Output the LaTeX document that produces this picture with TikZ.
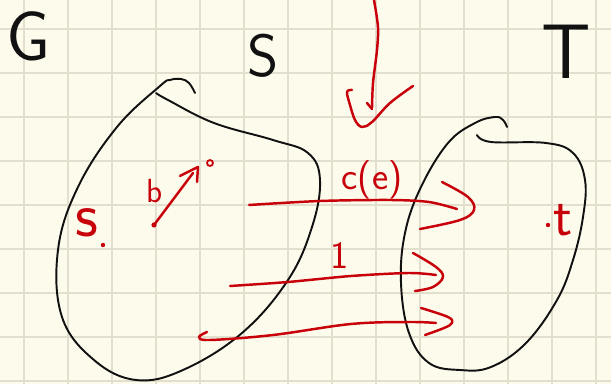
\documentclass[tikz,border=0pt]{standalone}
\usepackage{xcolor}
\usepackage{tikz}
\usetikzlibrary{positioning}
\definecolor{paper}{HTML}{FDFBEC}
\definecolor{gridline}{HTML}{E2DFCF}
\definecolor{ink}{HTML}{111111}
\definecolor{pen}{HTML}{C8000A}

\begin{document}
\begin{tikzpicture}[x=0.02cm,y=-0.02cm,
  blob/.style={draw=ink,line width=1.1pt,line cap=round,line join=round},
  penline/.style={draw=pen,line width=1.4pt,line cap=round,line join=round},
  hand/.style={inner sep=0pt,font=\sffamily}]
  \useasboundingbox (0,0) rectangle (611,384);
  \fill[paper] (0,0) rectangle (611,384);
  % squared note paper
  \foreach \gx in {0,...,13} \draw[gridline,line width=0.6pt] (24+44*\gx,0) -- (24+44*\gx,384);
  \foreach \gy in {0,...,8} \draw[gridline,line width=0.6pt] (0,29+44*\gy) -- (611,29+44*\gy);
  % the two sides of the cut
  \draw[blob] plot[smooth,tension=0.65] coordinates {(195,93) (189,83) (181,79) (170,80) (160,86) (117,127) (78,187) (58,250) (62,317) (94,360) (136,380) (183,370) (242,333) (288,280) (312,227) (320,180) (308,153) (273,140) (214,123) (168,100) (156,93)};
  \draw[blob] plot[smooth,tension=0.65] coordinates {(477,135) (491,142) (546,143) (573,153) (585,180) (583,217) (573,260) (557,300) (526,343) (491,367) (460,370) (429,363) (409,333) (401,283) (405,233) (421,187) (448,143) (475,123) (495,117) (503,120) (507,127)};
  \node[hand,text=ink,font=\sffamily\fontsize{40}{40}\selectfont] (lblG) at (29,36) {G};
  \node[hand,text=ink,font=\sffamily\fontsize{34}{34}\selectfont] (lblS) at (263,56) {S};
  \node[hand,text=ink,font=\sffamily\fontsize{44}{44}\selectfont] (lblT) at (566,52) {T};
  % pointer and tick
  \draw[penline] plot[smooth] coordinates {(374,0) (378,27) (377,50) (373,83) (372,108)};
  \draw[penline] (367,103) -- (372,109);
  \draw[penline] plot[smooth,tension=0.6] coordinates {(352,90) (347,92) (350,105) (355,120) (362,127) (372,122) (390,103) (413,86)};
  % edges crossing the cut
  \draw[penline] plot[smooth] coordinates {(249,205) (320,201) (390,200) (429,202) (457,209)};
  \draw[penline] plot[smooth,tension=0.6] coordinates {(442,182) (468,197) (474,210) (460,220) (420,229)};
  \draw[penline] plot[smooth] coordinates {(230,286) (288,282) (351,276) (409,273) (436,275)};
  \draw[penline] plot[smooth,tension=0.6] coordinates {(413,253) (436,267) (443,277) (433,287) (415,291)};
  \draw[penline] plot[smooth,tension=0.6] coordinates {(207,332) (199,337) (210,340) (273,335) (351,324) (409,322) (436,323)};
  \draw[penline] plot[smooth,tension=0.6] coordinates {(421,308) (448,317) (452,323) (444,328) (425,335)};
  \node[hand,text=pen,font=\sffamily\fontsize{22}{22}\selectfont] (lblce) at (372,180) {c(e)};
  \node[hand,text=pen,font=\sffamily\fontsize{22}{22}\selectfont] (lblone) at (340,256) {1};
  % source, sink and the edge b
  \node[hand,text=pen,font=\sffamily\fontsize{36}{36}\selectfont] (lbls) at (87,223) {s};
  \fill[pen] (103,245) circle (2.2);
  \node[hand,text=pen,font=\sffamily\fontsize{19}{19}\selectfont] (lblb) at (155,191) {b};
  \fill[pen] (154,225) circle (2.6);
  \draw[penline] (154,225) -- (193,173);
  \draw[penline] (180,176) -- (198,167) -- (197,182);
  \draw[pen,line width=1pt] (210,163) circle (3);
  \fill[pen] (548,225) circle (2.2);
  \node[hand,text=pen,font=\sffamily\fontsize{32}{32}\selectfont] (lblt) at (563,220) {t};
\end{tikzpicture}
\end{document}
